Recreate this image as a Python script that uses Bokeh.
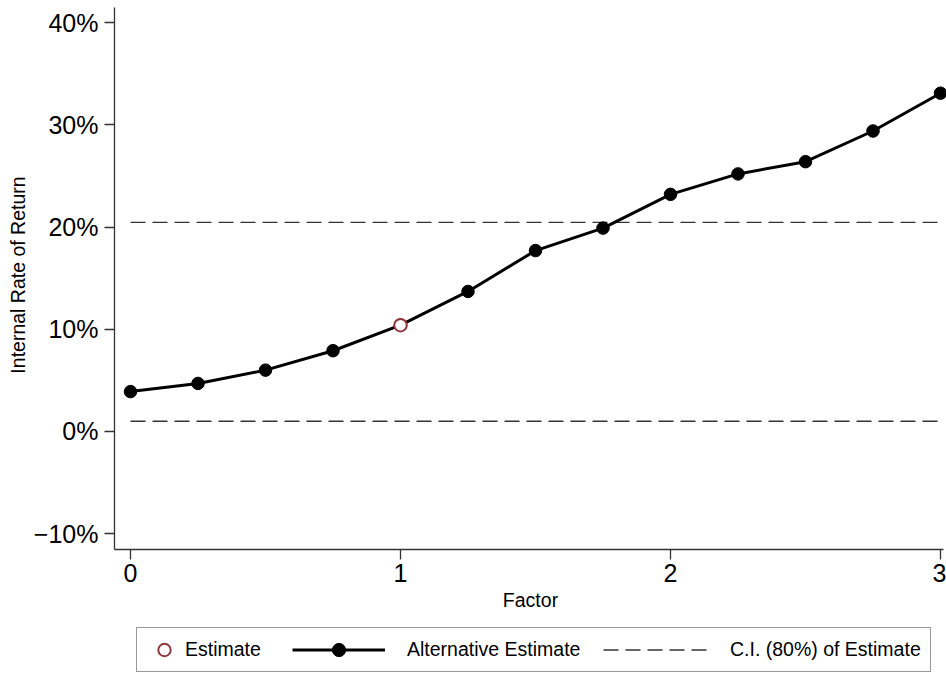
from bokeh.plotting import figure
from bokeh.models import Range1d, Legend, LegendItem, FixedTicker
from bokeh.layouts import column
from bokeh.embed import file_html
from bokeh.resources import INLINE

# ---------------- data ----------------
factor = [0, 0.25, 0.5, 0.75, 1, 1.25, 1.5, 1.75, 2, 2.25, 2.5, 2.75, 3]
alt_irr = [3.9, 4.7, 6.0, 7.9, 10.4, 13.7, 17.7, 19.9, 23.2, 25.2, 26.4, 29.4, 33.1]
est_factor = [1]
est_irr = [10.4]
ci_lower = 1.0
ci_upper = 20.45
x_ticks = [0, 1, 2, 3]
y_ticks = [-10, 0, 10, 20, 30, 40]
y_tick_labels = ["\u221210%", "0%", "10%", "20%", "30%", "40%"]

FONT = "Liberation Sans"
AXIS_COLOR = "#333333"
EST_COLOR = "#90353B"
DASH = "15 7"

X_LO, X_HI = -0.0593, 3.0111     # axis extent
Y_LO, Y_HI = -11.55, 41.49       # axis extent

# ---------------- main plot ----------------
p = figure(width=946, height=618, output_backend="svg", toolbar_location=None,
           x_range=Range1d(X_LO, 3.0222), y_range=Range1d(Y_LO, 42.17),
           min_border_left=114, min_border_right=0, min_border_top=0,
           min_border_bottom=69)
p.outline_line_color = None
p.grid.visible = False

ci_x = [factor[0], factor[-1]]
p.line(ci_x, [ci_lower, ci_lower], line_color=AXIS_COLOR, line_width=1.3, line_dash=DASH)
p.line(ci_x, [ci_upper, ci_upper], line_color=AXIS_COLOR, line_width=1.3, line_dash=DASH)
p.line(factor, alt_irr, line_color="black", line_width=3)
p.scatter(factor, alt_irr, marker="circle", size=12.5, fill_color="black", line_color="black")
p.scatter(est_factor, est_irr, marker="circle", size=12.5, fill_color="white",
          line_color=EST_COLOR, line_width=2)

for ax in (p.xaxis[0], p.yaxis[0]):
    ax.axis_line_color = AXIS_COLOR
    ax.axis_line_width = 1.3
    ax.major_tick_line_color = AXIS_COLOR
    ax.major_tick_line_width = 1.3
    ax.major_tick_in = 0
    ax.major_tick_out = 10
    ax.minor_tick_line_color = None
    ax.major_label_text_font = FONT
    ax.major_label_text_font_size = "25px"
    ax.major_label_text_color = "black"
    ax.axis_label_text_font = FONT
    ax.axis_label_text_font_size = "19.5px"
    ax.axis_label_text_font_style = "normal"
    ax.axis_label_text_color = "black"

p.xaxis.ticker = FixedTicker(ticks=x_ticks)
p.xaxis.bounds = (X_LO, X_HI)
p.xaxis.axis_label = "Factor"
p.xaxis.major_label_standoff = 4
p.xaxis.axis_label_standoff = 4

p.yaxis.ticker = FixedTicker(ticks=y_ticks)
p.yaxis.bounds = (Y_LO, Y_HI)
p.yaxis.major_label_overrides = {t: l for t, l in zip(y_ticks, y_tick_labels)}
p.yaxis.axis_label = "Internal Rate of Return"
p.yaxis.major_label_standoff = 6
p.yaxis.axis_label_standoff = 2

# ---------------- legend strip ----------------
lg = figure(width=946, height=55, output_backend="svg", toolbar_location=None,
            x_range=Range1d(100, 101), y_range=Range1d(100, 101),
            x_axis_type=None, y_axis_type=None,
            min_border_left=114, min_border_right=0, min_border_top=0, min_border_bottom=0)
lg.grid.visible = False
lg.outline_line_color = None

# proxies (outside the visible ranges) used only for legend glyphs
r_est = lg.scatter(est_factor, est_irr, marker="circle", size=12.5, fill_color="white",
                   line_color=EST_COLOR, line_width=2)
r_line = lg.line(factor, alt_irr, line_color="black", line_width=3)
r_dot = lg.scatter(factor, alt_irr, marker="circle", size=12.5, fill_color="black", line_color="black")
r_ci = lg.line(ci_x, [ci_lower, ci_lower], line_color=AXIS_COLOR, line_width=1.3, line_dash=DASH)

common = dict(margin=0, spacing=0,
              label_text_font=FONT, label_text_font_size="19.5px",
              label_text_color="black")

leg1 = Legend(items=[LegendItem(label="Estimate", renderers=[r_est])],
              location=(22, 1), glyph_width=42, glyph_height=31, label_standoff=0, padding=6,
              label_width=739, border_line_color=AXIS_COLOR, border_line_width=1.2,
              background_fill_color="white", background_fill_alpha=1, **common)
leg2 = Legend(items=[LegendItem(label="Alternative Estimate", renderers=[r_line, r_dot])],
              location=(178, 7), glyph_width=93, glyph_height=33, label_standoff=22, padding=0,
              border_line_color=None, background_fill_alpha=0, **common)
leg3 = Legend(items=[LegendItem(label="C.I. (80%) of Estimate", renderers=[r_ci])],
              location=(489, 7), glyph_width=105, glyph_height=33, label_standoff=22, padding=0,
              border_line_color=None, background_fill_alpha=0, **common)
lg.add_layout(leg1, "center")
lg.add_layout(leg2, "center")
lg.add_layout(leg3, "center")

layout = column(p, lg, spacing=0)
open("out.html", "w").write(file_html(layout, INLINE))
